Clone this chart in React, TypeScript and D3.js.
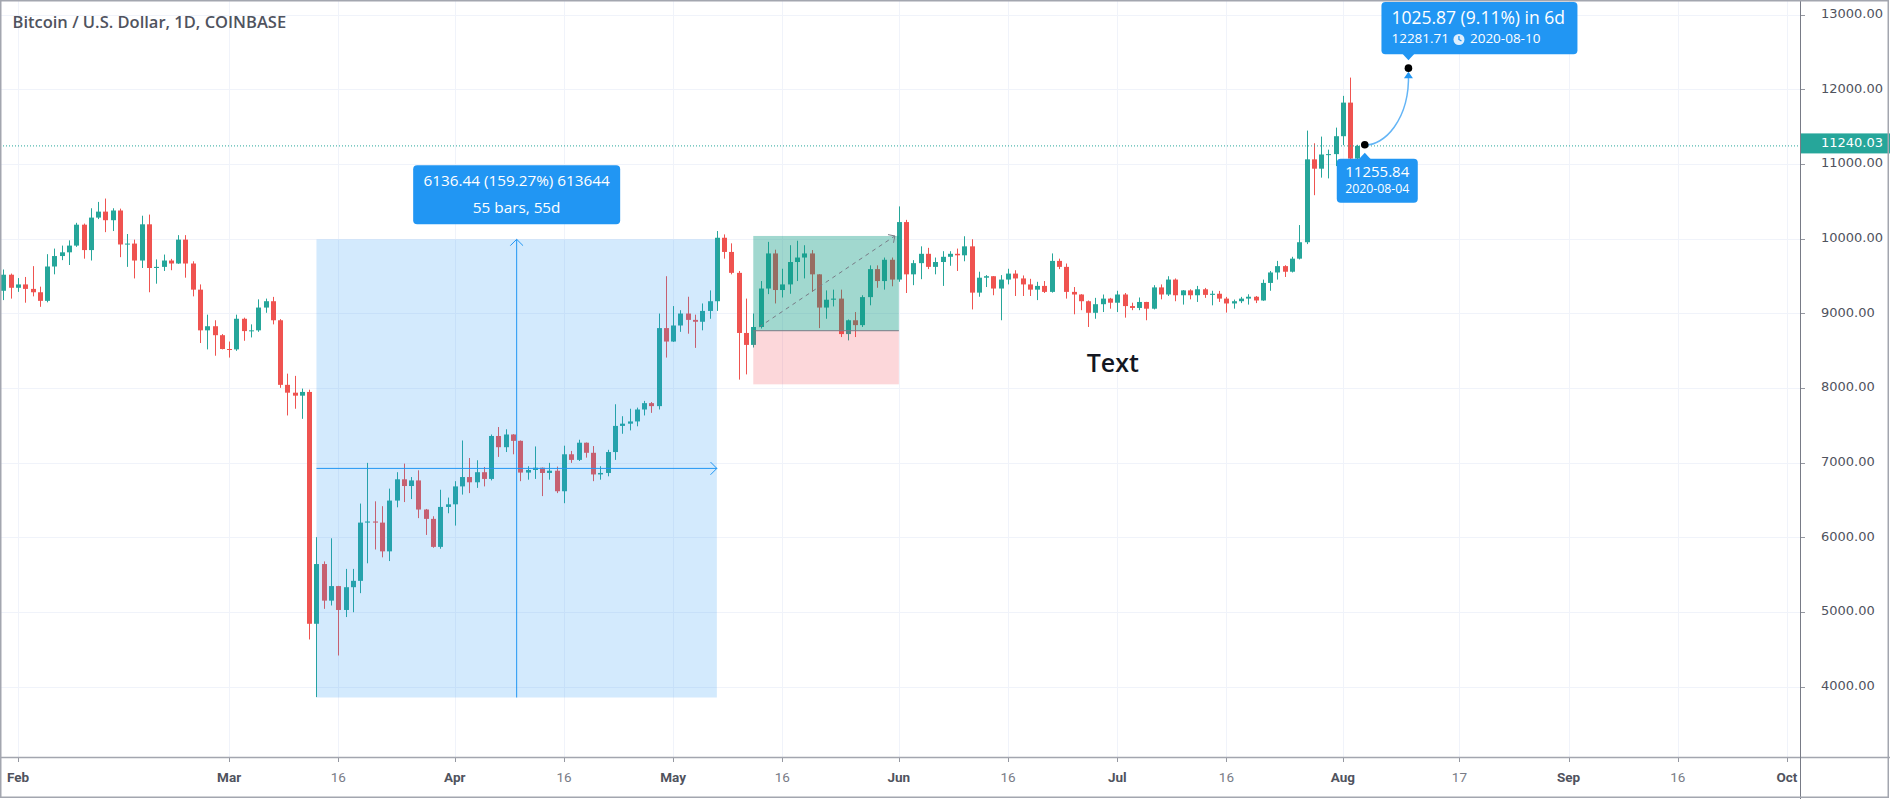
import React from "react";
import * as d3 from "d3";

// BTC/USD daily candles, Coinbase, Jan 30 – Aug 3 2020 (one value per day)
const firstDay = "2020-01-30";

const opens = [
  9300, 9515,
  9340, 9385, 9325, 9280, 9165, 9625, 9765, 9815, 9905, 10185, 9845, 10280, 10360, 10245, 10375, 9920, 9932, 9705, 10190, 9605, 9620, 9705, 9665, 9985, 9665, 9315, 8770, 8825, 8705,
  8520, 8515, 8925, 8760, 8770, 9075, 9160, 8905, 8040, 7935, 7895, 7945, 4840, 5640, 5150, 5345, 5025, 5330, 5415, 6195, 6210, 6195, 5810, 6490, 6775, 6685, 6760, 6370, 6245, 5870, 6405,
  6440, 6680, 6805, 6735, 6870, 6780, 7355, 7205, 7375, 7290, 6865, 6900, 6930, 6860, 6890, 6615, 7110, 7035, 7265, 7130, 6840, 6860, 7140, 7490, 7520, 7550, 7710, 7795, 7755, 8800,
  8620, 8835, 8995, 8910, 8885, 9030, 9160, 10010, 9820, 9540, 8735, 8575, 8815, 9330, 9800, 9310, 9385, 9685, 9745, 9800, 9520, 9075, 9180, 9195, 8720, 8905, 8840, 9215, 9590, 9430, 9715,
  9450, 10220, 9520, 9670, 9795, 9620, 9685, 9755, 9795, 9775, 9895, 9275, 9475, 9495, 9330, 9450, 9530, 9465, 9385, 9315, 9365, 9285, 9700, 9620, 9285, 9250, 9160, 9005, 9120, 9195,
  9140, 9250, 9095, 9070, 9150, 9060, 9345, 9250, 9450, 9240, 9305, 9240, 9320, 9245, 9260, 9195, 9130, 9160, 9195, 9220, 9170, 9405, 9545, 9630, 9555, 9730, 9950, 11060, 10935, 11118, 11130,
  11370, 11820, 11070,
];

const highs = [
  9585, 9530,
  9470, 9485, 9630, 9355, 9790, 9865, 9905, 9975, 10210, 10200, 10405, 10490, 10535, 10405, 10400, 10060, 9985, 10305, 10320, 9720, 9785, 9727, 10045, 10045, 9695, 9385, 8980, 8905, 8720,
  8620, 8980, 8940, 8850, 9185, 9195, 9218, 8920, 8190, 8160, 7990, 7975, 6000, 5675, 5985, 5348, 5575, 5575, 6450, 6995, 6480, 6415, 6650, 6870, 6985, 6805, 6895, 6378, 6280, 6635, 6530,
  6750, 7295, 7060, 7030, 6940, 7375, 7475, 7445, 7380, 7295, 6950, 7215, 6932, 6995, 6945, 7225, 7155, 7305, 7268, 7220, 6950, 7170, 7780, 7620, 7720, 7735, 7825, 7810, 8995, 9495,
  9095, 9040, 9220, 8980, 9130, 9305, 10100, 10055, 9935, 9565, 9195, 8995, 9430, 9955, 9850, 9595, 9910, 9970, 9910, 9845, 9522, 9305, 9315, 9315, 8915, 9015, 9240, 9640, 9640, 9745, 9745,
  10430, 10250, 9710, 9895, 9875, 9745, 9830, 9830, 9865, 10030, 9990, 9555, 9510, 9497, 9510, 9595, 9575, 9505, 9460, 9420, 9430, 9800, 9730, 9665, 9350, 9255, 9170, 9205, 9250, 9205,
  9300, 9270, 9140, 9210, 9152, 9375, 9385, 9495, 9465, 9310, 9320, 9365, 9338, 9300, 9298, 9218, 9182, 9218, 9253, 9230, 9450, 9565, 9700, 9642, 9755, 10180, 11445, 11275, 11365, 11190, 11485,
  11910, 12155, 11255,
];

const lows = [
  9175, 9195,
  9285, 9140, 9225, 9085, 9145, 9520, 9710, 9645, 9888, 9730, 9705, 10260, 10085, 10100, 9750, 9620, 9465, 9605, 9280, 9395, 9565, 9575, 9660, 9475, 9225, 8600, 8515, 8430, 8515,
  8405, 8495, 8630, 8675, 8750, 9005, 8850, 8000, 7630, 7720, 7585, 4630, 3858, 5040, 5085, 4415, 4930, 4995, 5250, 5650, 5835, 5730, 5680, 6400, 6470, 6510, 6255, 6030, 5858, 5845, 6320,
  6155, 6570, 6590, 6660, 6680, 6760, 7075, 7140, 7110, 6750, 6770, 6780, 6550, 6770, 6590, 6455, 6995, 7020, 7065, 6750, 6770, 6815, 7035, 7385, 7430, 7485, 7630, 7665, 7710, 8405,
  8615, 8750, 8725, 8535, 8770, 8925, 9030, 9730, 9520, 8110, 8180, 8540, 8795, 9255, 9130, 9210, 9260, 9430, 9465, 9285, 8800, 8925, 9090, 8680, 8635, 8680, 8815, 9105, 9340, 9315, 9360,
  9420, 9270, 9375, 9455, 9590, 9520, 9365, 9635, 9565, 9695, 9050, 9220, 9350, 9240, 8905, 9385, 9230, 9230, 9230, 9175, 9270, 9275, 9590, 9195, 8985, 9040, 8815, 8925, 9015, 9060,
  9015, 8940, 9040, 9040, 8905, 9050, 9185, 9230, 9160, 9115, 9185, 9150, 9205, 9105, 9150, 9008, 9060, 9135, 9115, 9135, 9165, 9300, 9450, 9485, 9545, 9720, 9925, 10580, 10815, 10805, 10970,
  11250, 10660, 10950,
];

const closes = [
  9515, 9340,
  9385, 9325, 9280, 9165, 9625, 9765, 9815, 9905, 10185, 9845, 10280, 10360, 10245, 10375, 9920, 9932, 9705, 10190, 9605, 9620, 9705, 9665, 9985, 9665, 9315, 8770, 8825, 8705, 8520,
  8515, 8925, 8760, 8770, 9075, 9160, 8905, 8040, 7935, 7895, 7945, 4840, 5640, 5150, 5345, 5025, 5330, 5415, 6195, 6210, 6195, 5810, 6490, 6775, 6685, 6760, 6370, 6245, 5870, 6405, 6440,
  6680, 6805, 6735, 6870, 6780, 7355, 7205, 7375, 7290, 6865, 6900, 6930, 6860, 6890, 6615, 7110, 7035, 7265, 7130, 6840, 6860, 7140, 7490, 7520, 7550, 7710, 7795, 7755, 8800, 8620,
  8835, 8995, 8910, 8885, 9030, 9160, 10010, 9820, 9540, 8735, 8575, 8815, 9330, 9800, 9310, 9385, 9685, 9745, 9800, 9520, 9075, 9180, 9195, 8720, 8905, 8840, 9215, 9590, 9430, 9715, 9450,
  10220, 9520, 9670, 9795, 9620, 9685, 9755, 9795, 9775, 9895, 9275, 9475, 9495, 9330, 9450, 9530, 9465, 9385, 9315, 9365, 9285, 9700, 9620, 9285, 9250, 9160, 9005, 9120, 9195, 9140,
  9250, 9095, 9070, 9150, 9060, 9345, 9250, 9450, 9240, 9305, 9240, 9320, 9245, 9260, 9195, 9130, 9160, 9195, 9220, 9170, 9405, 9545, 9630, 9555, 9730, 9950, 11060, 10935, 11125, 11130, 11370,
  11820, 11070, 11240.03,
];

// time axis
const xTickDates = [
  "2020-02-01", "2020-03-01", "2020-03-16", "2020-04-01", "2020-04-16", "2020-05-01", "2020-05-16", "2020-06-01",
  "2020-06-16", "2020-07-01", "2020-07-16", "2020-08-01", "2020-08-17", "2020-09-01", "2020-09-16", "2020-10-01",
];
const xTickLabels = ["Feb", "Mar", "16", "Apr", "16", "May", "16", "Jun", "16", "Jul", "16", "Aug", "17", "Sep", "16", "Oct"];
const priceTicks = [4000, 5000, 6000, 7000, 8000, 9000, 10000, 11000, 12000, 13000];

// drawings
const title = "Bitcoin / U.S. Dollar, 1D, COINBASE";
const lastPrice = 11240.03;

const measureFrom = "2020-03-13";
const measureTo = "2020-05-07";
const measureLow = 3852.8;
const measureHigh = 9989.2;
const measureLines = ["6136.44 (159.27%) 613644", "55 bars, 55d"];

const longFrom = "2020-05-12";
const longTo = "2020-06-01";
const longEntry = 8765;
const longTarget = 10034;
const longStop = 8047;
const longPathStart = 8815;

const projFrom = { date: "2020-08-04", price: 11255.84 };
const projTo = { date: "2020-08-10", price: 12281.71 };
const projHead = "1025.87 (9.11%) in 6d";

const noteText = "Text";
const noteAt = { date: "2020-06-27", price: 8210 };

const UP = "#26a69a";
const DOWN = "#ef5350";
const BLUE = "#2196f3";
const GRID = "#f0f3fa";
const AXIS_TEXT = "#50535e";

const PANE_W = 1800;
const PANE_H = 757;

function chevron(x1: number, y1: number, x2: number, y2: number, size: number) {
  const a = Math.atan2(y2 - y1, x2 - x1);
  const s = Math.PI / 4;
  const p1 = [x2 - size * Math.cos(a - s), y2 - size * Math.sin(a - s)];
  const p2 = [x2 - size * Math.cos(a + s), y2 - size * Math.sin(a + s)];
  return `M${p1[0]},${p1[1]}L${x2},${y2}L${p2[0]},${p2[1]}`;
}

export default function App() {
  const parse = d3.utcParse("%Y-%m-%d");
  const start = parse(firstDay) as Date;

  const candles = opens.map((o, i) => ({
    date: d3.utcDay.offset(start, i),
    o,
    h: highs[i],
    l: lows[i],
    c: closes[i],
  }));

  // Feb 1 and Oct 1 sit on the first and last time-axis ticks
  const x = d3
    .scaleUtc()
    .domain([parse("2020-02-01") as Date, parse("2020-10-01") as Date])
    .range([18, 1787]);
  const y = d3.scaleLinear().domain([4000, 13000]).range([686.5, 14.5]);
  const xd = (s: string) => x(parse(s) as Date);
  const fmt = d3.format(".2f");

  // measure tool
  const mx0 = xd(measureFrom);
  const mx1 = xd(measureTo);
  const my0 = y(measureHigh);
  const my1 = y(measureLow);
  const mxm = (mx0 + mx1) / 2;
  const mym = (my0 + my1) / 2;

  // long position tool
  const lx0 = xd(longFrom);
  const lx1 = xd(longTo);
  const lyT = y(longTarget);
  const lyE = y(longEntry);
  const lyS = y(longStop);
  const dashStart = [lx0 + 6, y(longPathStart)];
  const dashEnd = [lx1 - 4, lyT];

  // projection
  const p1 = [xd(projFrom.date), y(projFrom.price)];
  const p2 = [xd(projTo.date), y(projTo.price)];
  const curve = `M${p1[0]},${p1[1]} C${p1[0] + 19},${p1[1] + 1.5} ${p2[0] + 1.5},${p1[1] - 25} ${p2[0]},${p2[1] + 5}`;

  const lastY = y(lastPrice);

  return (
    <svg
      width={1890}
      height={799}
      style={{ position: "absolute", left: 0, top: 0, background: "#fff" }}
    >
      <defs>
        <clipPath id="pane">
          <rect x={0} y={0} width={PANE_W} height={PANE_H} />
        </clipPath>
        <clipPath id="timeaxis">
          <rect x={0} y={PANE_H} width={PANE_W} height={42} />
        </clipPath>
      </defs>

      {/* grid */}
      <g clipPath="url(#pane)">
        {xTickDates.map((d) => (
          <line key={d} x1={Math.round(xd(d)) + 0.5} x2={Math.round(xd(d)) + 0.5} y1={0} y2={PANE_H} stroke={GRID} />
        ))}
        {priceTicks.map((p) => (
          <line key={p} x1={0} x2={PANE_W} y1={Math.round(y(p)) + 0.5} y2={Math.round(y(p)) + 0.5} stroke={GRID} />
        ))}
      </g>

      {/* candles */}
      <g clipPath="url(#pane)">
        {candles.map((d, i) => {
          const cx = Math.round(x(d.date));
          const col = d.c >= d.o ? UP : DOWN;
          const top = Math.min(y(d.o), y(d.c));
          const h = Math.max(1, Math.abs(y(d.o) - y(d.c)));
          return (
            <g key={i}>
              <line x1={cx + 0.5} x2={cx + 0.5} y1={y(d.h)} y2={y(d.l)} stroke={col} />
              <rect x={cx - 2} y={top} width={5} height={h} fill={col} />
            </g>
          );
        })}
      </g>

      {/* last price line */}
      <line x1={0} x2={PANE_W} y1={lastY} y2={lastY} stroke={UP} strokeDasharray="1 2" />

      {/* measure */}
      <g>
        <rect x={mx0} y={my0} width={mx1 - mx0} height={my1 - my0} fill="rgba(33,150,243,0.2)" />
        <line x1={mx0} x2={mx1} y1={mym} y2={mym} stroke={BLUE} />
        <line x1={mxm} x2={mxm} y1={my1} y2={my0} stroke={BLUE} />
        <path d={chevron(mx0, mym, mx1, mym, 9)} fill="none" stroke={BLUE} />
        <path d={chevron(mxm, my1, mxm, my0, 9)} fill="none" stroke={BLUE} />
        <rect x={mxm - 103.5} y={my0 - 74} width={207} height={59} rx={4} fill={BLUE} />
        <text x={mxm} y={my0 - 57} textAnchor="middle" dominantBaseline="middle" fill="#fff" fontFamily="'Open Sans', sans-serif" fontSize={15.3}>
          {measureLines[0]}
        </text>
        <text x={mxm} y={my0 - 30.5} textAnchor="middle" dominantBaseline="middle" fill="#fff" fontFamily="'Open Sans', sans-serif" fontSize={15.3}>
          {measureLines[1]}
        </text>
      </g>

      {/* long position */}
      <g>
        <rect x={lx0} y={lyT} width={lx1 - lx0} height={lyE - lyT} fill="rgba(8,153,129,0.38)" />
        <rect x={lx0} y={lyE} width={lx1 - lx0} height={lyS - lyE} fill="rgba(242,54,69,0.2)" />
        <line x1={lx0} x2={lx1} y1={lyE} y2={lyE} stroke="#787b86" />
        <line x1={dashStart[0]} y1={dashStart[1]} x2={dashEnd[0]} y2={dashEnd[1]} stroke="#787b86" strokeDasharray="4 4" />
        <path d={chevron(dashStart[0], dashStart[1], dashEnd[0], dashEnd[1], 7)} fill="none" stroke="#787b86" />
      </g>

      {/* text note */}
      <text x={xd(noteAt.date) - 1.5} y={y(noteAt.price)} fill="#131722" fontFamily="'Open Sans', sans-serif" fontWeight={600} fontSize={25}>
        {noteText}
      </text>

      {/* projection */}
      <g>
        <path d={curve} fill="none" stroke="#64b5f6" strokeWidth={1.5} />
        <path d={`M${p2[0]},${p2[1] + 3.5} L${p2[0] - 4.5},${p2[1] + 10} L${p2[0] + 4.5},${p2[1] + 10} Z`} fill={BLUE} />
        <circle cx={p1[0]} cy={p1[1]} r={3.8} fill="#000" />
        <circle cx={p2[0]} cy={p2[1]} r={3.8} fill="#000" />

        {/* lower label */}
        <rect x={p1[0] - 28} y={p1[1] + 14} width={81} height={44} rx={4} fill={BLUE} />
        <path d={`M${p1[0] - 6},${p1[1] + 14.5} L${p1[0]},${p1[1] + 8} L${p1[0] + 6},${p1[1] + 14.5} Z`} fill={BLUE} />
        <text x={p1[0] + 12.5} y={p1[1] + 28} textAnchor="middle" dominantBaseline="middle" fill="#fff" fontFamily="'Open Sans', sans-serif" fontSize={15}>
          {fmt(projFrom.price)}
        </text>
        <text x={p1[0] + 12.5} y={p1[1] + 44.5} textAnchor="middle" dominantBaseline="middle" fill="#fff" fontFamily="'Open Sans', sans-serif" fontSize={12.3}>
          {projFrom.date}
        </text>

        {/* upper label */}
        <rect x={p2[0] - 27} y={2} width={196} height={p2[1] - 16} rx={4} fill={BLUE} />
        <path d={`M${p2[0] - 6},${p2[1] - 14.5} L${p2[0]},${p2[1] - 8} L${p2[0] + 6},${p2[1] - 14.5} Z`} fill={BLUE} />
        <text x={p2[0] - 17} y={19} dominantBaseline="middle" fill="#fff" fontFamily="'Open Sans', sans-serif" fontSize={17.5}>
          {projHead}
        </text>
        <text x={p2[0] - 17} y={39.5} dominantBaseline="middle" fill="#fff" fontFamily="'Open Sans', sans-serif" fontSize={13.5}>
          {fmt(projTo.price)}
        </text>
        <circle cx={p2[0] + 50.5} cy={39.5} r={5.5} fill="#fff" opacity={0.85} />
        <path d={`M${p2[0] + 50.5},${36} L${p2[0] + 50.5},${39.5} L${p2[0] + 53},${41}`} fill="none" stroke={BLUE} strokeWidth={1.3} />
        <text x={p2[0] + 61.5} y={39.5} dominantBaseline="middle" fill="#fff" fontFamily="'Open Sans', sans-serif" fontSize={13.5}>
          {projTo.date}
        </text>
      </g>

      {/* title */}
      <text x={12.5} y={28} fill={AXIS_TEXT} fontFamily="'Open Sans', sans-serif" fontWeight={600} fontSize={16.5}>
        {title}
      </text>

      {/* price axis */}
      <g>
        {priceTicks.map((p) => (
          <g key={p}>
            <line x1={PANE_W} x2={PANE_W + 5} y1={Math.round(y(p)) + 0.5} y2={Math.round(y(p)) + 0.5} stroke="#9598a1" />
            <text x={1821} y={y(p)} dominantBaseline="middle" fill={AXIS_TEXT} fontFamily="'DejaVu Sans', sans-serif" fontSize={13}>
              {fmt(p)}
            </text>
          </g>
        ))}
        <rect x={PANE_W} y={lastY - 12.5} width={90} height={20} fill={UP} />
        <text x={1821} y={lastY - 2.5} dominantBaseline="middle" fill="#fff" fontFamily="'DejaVu Sans', sans-serif" fontSize={13}>
          {fmt(lastPrice)}
        </text>
      </g>

      {/* time axis */}
      <g clipPath="url(#timeaxis)">
        {xTickDates.map((d, i) => {
          const isMonth = isNaN(Number(xTickLabels[i]));
          return (
            <g key={d}>
              <line x1={Math.round(xd(d)) + 0.5} x2={Math.round(xd(d)) + 0.5} y1={PANE_H} y2={PANE_H + 5} stroke="#9598a1" />
              <text
                x={xd(d)}
                y={778}
                textAnchor="middle"
                dominantBaseline="middle"
                fill={isMonth ? AXIS_TEXT : "#787b86"}
                fontWeight={isMonth ? 700 : 400}
                fontFamily="'Liberation Sans Narrow', 'Roboto', sans-serif"
                fontSize={13.5}
              >
                {xTickLabels[i]}
              </text>
            </g>
          );
        })}
      </g>

      {/* frame */}
      <line x1={0} x2={1890} y1={PANE_H + 0.5} y2={PANE_H + 0.5} stroke="#a3a6af" strokeWidth={1.5} />
      <line x1={PANE_W + 0.5} x2={PANE_W + 0.5} y1={0} y2={799} stroke="#787b86" />
      <rect x={0.75} y={0.75} width={1887.5} height={796.5} fill="none" stroke="#a3a6af" strokeWidth={1.5} />
    </svg>
  );
}
